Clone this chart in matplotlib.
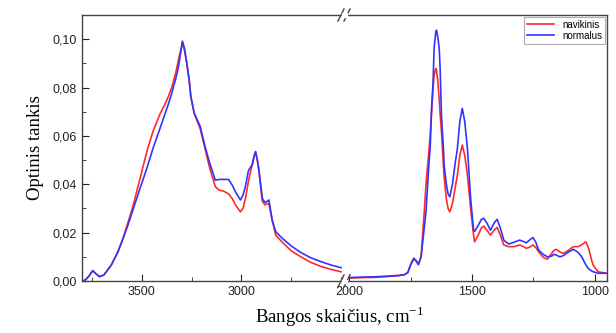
import numpy as np
import matplotlib.pyplot as plt
from matplotlib.ticker import MultipleLocator

# values (wavenumber, absorbance)
wn_left = [3800, 3785, 3765, 3746, 3730, 3712, 3690, 3678, 3653, 3620, 3594, 3570,
           3544, 3510, 3473, 3443, 3409, 3384, 3367, 3350, 3342, 3330, 3322, 3313,
           3296, 3285, 3274, 3262, 3254, 3237, 3207, 3182, 3160, 3131, 3110, 3090,
           3064, 3045, 3030, 3005, 2992, 2980, 2965, 2958, 2946, 2935, 2929, 2920,
           2912, 2902, 2895, 2882, 2870, 2862, 2845, 2828, 2794, 2750, 2702, 2652,
           2600, 2550, 2500]
red_left = [0.0000, 0.0003, 0.0020, 0.0043, 0.0030, 0.0018, 0.0025, 0.0038, 0.0066, 0.0120, 0.0176, 0.0240,
            0.0310, 0.0420, 0.0540, 0.0620, 0.0690, 0.0730, 0.0762, 0.0800, 0.0822, 0.0860, 0.0890, 0.0925,
            0.0985, 0.0950, 0.0900, 0.0831, 0.0762, 0.0693, 0.0630, 0.0545, 0.0470, 0.0390, 0.0375, 0.0372,
            0.0360, 0.0340, 0.0315, 0.0286, 0.0300, 0.0340, 0.0410, 0.0438, 0.0480, 0.0520, 0.0535, 0.0500,
            0.0455, 0.0380, 0.0330, 0.0315, 0.0320, 0.0320, 0.0250, 0.0190, 0.0160, 0.0125, 0.0100, 0.0077,
            0.0060, 0.0048, 0.0038]
blue_left = [0.0000, 0.0003, 0.0020, 0.0043, 0.0030, 0.0018, 0.0025, 0.0038, 0.0066, 0.0120, 0.0176, 0.0230,
             0.0295, 0.0380, 0.0470, 0.0550, 0.0630, 0.0690, 0.0730, 0.0775, 0.0800, 0.0835, 0.0862, 0.0900,
             0.0992, 0.0960, 0.0900, 0.0831, 0.0765, 0.0695, 0.0640, 0.0555, 0.0490, 0.0417, 0.0420, 0.0420,
             0.0420, 0.0395, 0.0369, 0.0335, 0.0355, 0.0390, 0.0455, 0.0466, 0.0480, 0.0520, 0.0535, 0.0500,
             0.0459, 0.0390, 0.0342, 0.0325, 0.0330, 0.0335, 0.0250, 0.0204, 0.0176, 0.0145, 0.0118, 0.0096,
             0.0080, 0.0066, 0.0055]

wn_right = [2000, 1950, 1900, 1850, 1800, 1776, 1762, 1750, 1738, 1728, 1719, 1708,
            1695, 1688, 1675, 1671, 1665, 1659, 1655, 1648, 1645, 1640, 1634, 1630,
            1625, 1617, 1614, 1605, 1598, 1591, 1580, 1570, 1560, 1550, 1540, 1530,
            1519, 1506, 1494, 1490, 1475, 1462, 1452, 1440, 1425, 1410, 1398, 1385,
            1371, 1351, 1330, 1306, 1290, 1279, 1265, 1252, 1240, 1229, 1210, 1193,
            1175, 1168, 1158, 1142, 1128, 1110, 1087, 1067, 1053, 1036, 1025, 1013,
            1006, 986, 953]
red_right = [0.0012, 0.0014, 0.0015, 0.0018, 0.0022, 0.0026, 0.0035, 0.0070, 0.0095, 0.0085, 0.0068, 0.0100,
             0.0286, 0.0400, 0.0548, 0.0600, 0.0700, 0.0800, 0.0850, 0.0879, 0.0870, 0.0830, 0.0750, 0.0686,
             0.0620, 0.0480, 0.0430, 0.0340, 0.0300, 0.0286, 0.0320, 0.0380, 0.0438, 0.0520, 0.0562, 0.0520,
             0.0438, 0.0300, 0.0190, 0.0162, 0.0190, 0.0220, 0.0227, 0.0210, 0.0190, 0.0210, 0.0222, 0.0190,
             0.0149, 0.0142, 0.0142, 0.0149, 0.0142, 0.0135, 0.0140, 0.0149, 0.0138, 0.0121, 0.0098, 0.0090,
             0.0115, 0.0125, 0.0131, 0.0120, 0.0114, 0.0125, 0.0142, 0.0142, 0.0150, 0.0162, 0.0135, 0.0087,
             0.0065, 0.0038, 0.0032]
blue_right = [0.0014, 0.0016, 0.0017, 0.0020, 0.0023, 0.0026, 0.0035, 0.0068, 0.0092, 0.0082, 0.0068, 0.0100,
              0.0220, 0.0286, 0.0500, 0.0548, 0.0720, 0.0824, 0.0962, 0.1030, 0.1037, 0.1010, 0.0962, 0.0870,
              0.0686, 0.0550, 0.0480, 0.0400, 0.0360, 0.0348, 0.0400, 0.0480, 0.0548, 0.0660, 0.0714, 0.0660,
              0.0548, 0.0342, 0.0210, 0.0205, 0.0230, 0.0255, 0.0259, 0.0240, 0.0210, 0.0240, 0.0255, 0.0220,
              0.0169, 0.0153, 0.0160, 0.0169, 0.0163, 0.0158, 0.0170, 0.0180, 0.0160, 0.0128, 0.0110, 0.0100,
              0.0103, 0.0110, 0.0108, 0.0100, 0.0105, 0.0118, 0.0131, 0.0118, 0.0100, 0.0066, 0.0050, 0.0042,
              0.0038, 0.0032, 0.0032]

y_ticks = [0.00, 0.02, 0.04, 0.06, 0.08, 0.10]
y_labels = ['0,00', '0,02', '0,04', '0,06', '0,08', '0,10']

red = '#ff2a2a'
blue = '#3333ff'
edge = '#444444'

fig = plt.figure(figsize=(6.16, 3.33), dpi=100)
L, R, B, T = 82 / 616, 607 / 616, 1 - 281 / 333, 1 - 15 / 333
xb = 347 / 616
ax1 = fig.add_axes([L, B, xb - L, T - B])
ax2 = fig.add_axes([xb, B, R - xb, T - B], sharey=ax1)

ax1.plot(wn_left, red_left, color=red, lw=1.2, label='navikinis')
ax1.plot(wn_left, blue_left, color=blue, lw=1.2, label='normalus')
ax2.plot(wn_right, red_right, color=red, lw=1.2, label='navikinis')
ax2.plot(wn_right, blue_right, color=blue, lw=1.2, label='normalus')

ax1.set_xlim(3800, 2470)
ax2.set_xlim(2010, 950)
ax1.set_ylim(0, 0.11)

ax1.set_xticks([3500, 3000])
ax1.xaxis.set_minor_locator(MultipleLocator(250))
ax2.set_xticks([2000, 1500, 1000])
ax2.xaxis.set_minor_locator(MultipleLocator(250))
ax1.set_yticks(y_ticks)
ax1.set_yticklabels(y_labels)
ax1.yaxis.set_minor_locator(MultipleLocator(0.01))

for ax in (ax1, ax2):
    ax.tick_params(which='both', direction='in', labelsize=9, colors='#222222',
                   top=False, right=False)
    ax.tick_params(which='major', length=5)
    ax.tick_params(which='minor', length=3)
    for s in ax.spines.values():
        s.set_color(edge)
        s.set_linewidth(1.0)
    for lab in ax.get_xticklabels() + ax.get_yticklabels():
        lab.set_fontfamily('Liberation Sans')

ax1.spines['right'].set_visible(False)
ax2.spines['left'].set_visible(False)
ax2.tick_params(axis='y', which='both', left=False, labelleft=False)

# break marks
for yy in (T, B):
    for dx in (-6, 0):
        x0 = (347 + dx) / 616
        fig.add_artist(plt.Line2D([x0 - 3 / 616, x0 + 3 / 616], [yy - 6 / 333, yy + 6 / 333],
                                  color=edge, lw=1.0))
    fig.add_artist(plt.Rectangle(((341 + 0.5) / 616, yy - 1.5 / 333), 5 / 616, 3 / 333,
                                 color='white', zorder=3))

ax1.set_ylabel('Optinis tankis', fontfamily='Liberation Serif', fontsize=13.5, labelpad=6)
fig.text(340 / 616, 0.03, 'Bangos skaičius, cm$^{\\mathregular{-1}}$', ha='center',
         fontfamily='Liberation Serif', fontsize=13.5)

leg = ax2.legend(loc='upper right', frameon=True, fancybox=False,
                 borderpad=0.3, handlelength=2.8, labelspacing=0.1, borderaxespad=0.2,
                 prop={'family': 'Liberation Sans', 'size': 7})
leg.get_frame().set_edgecolor('#999999')
leg.get_frame().set_linewidth(0.8)

fig.savefig('out.png', dpi=100)
